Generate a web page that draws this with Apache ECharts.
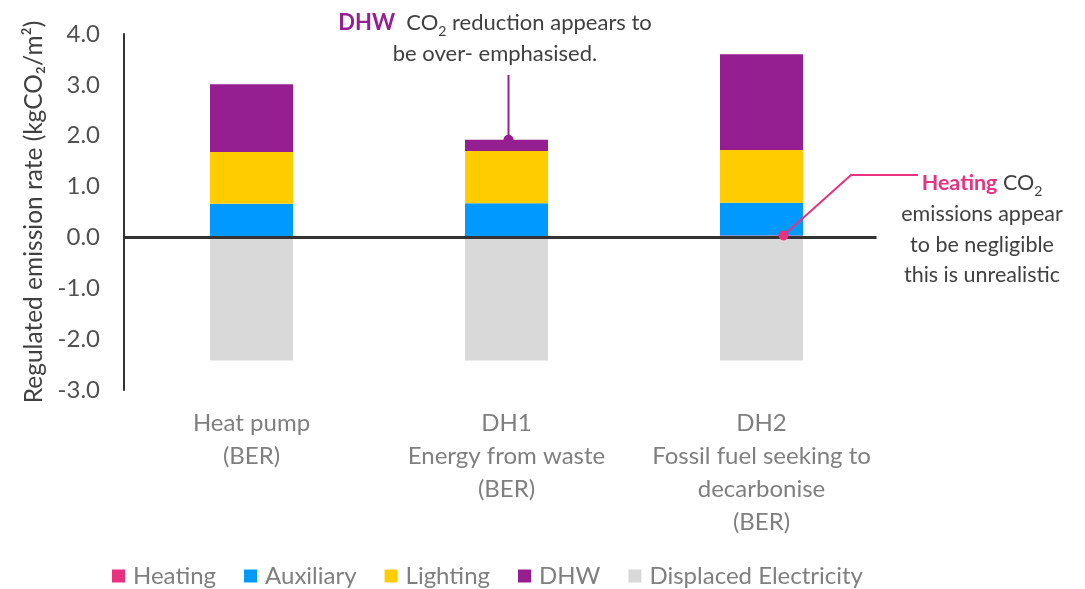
<!DOCTYPE html>
<html>
<head>
<meta charset="utf-8">
<script src="https://cdn.jsdelivr.net/npm/echarts@6/dist/echarts.min.js"></script>
<style>
  html, body { margin: 0; padding: 0; background: #ffffff; }
  #chart { width: 1085px; height: 589px; }
</style>
</head>
<body>
<div id="chart"></div>
<script>
// Categories (scenarios) and stacked emission components, kgCO2/m2
const categories = [
  'Heat pump\n(BER)',
  'DH1\nEnergy from waste\n(BER)',
  'DH2\nFossil fuel seeking to\ndecarbonise\n(BER)'
];
const heating   = [0.03, 0.03, 0.04];
const auxiliary = [0.63, 0.64, 0.64];
const lighting  = [1.02, 1.03, 1.04];
const dhw       = [1.33, 0.22, 1.88];
const displaced = [-2.42, -2.42, -2.42];

const yMin = -3, yMax = 4, yStep = 1;

const colors = {
  heating: '#E8317F',
  auxiliary: '#0099FF',
  lighting: '#FFCC00',
  dhw: '#951F91',
  displaced: '#D9D9D9'
};

const FONT = 'Lato, "Open Sans", sans-serif';

const chart = echarts.init(document.getElementById('chart'), null, { renderer: 'canvas' });

function barSeries(name, data, color) {
  return {
    name: name,
    type: 'bar',
    stack: 'total',
    data: data,
    barWidth: 83,
    itemStyle: { color: color },
    emphasis: { disabled: true }
  };
}

const option = {
  animation: false,
  textStyle: { fontFamily: FONT },
  grid: { left: 124, width: 765, top: 34, height: 356 },
  legend: {
    left: 112,
    top: 564,
    padding: 0,
    icon: 'rect',
    itemWidth: 13,
    itemHeight: 13,
    itemGap: 28,
    textStyle: { fontSize: 24, color: '#7F7F7F', fontFamily: FONT, padding: [0, 0, 0, 3] },
    data: ['Heating', 'Auxiliary', 'Lighting', 'DHW', 'Displaced Electricity']
  },
  xAxis: {
    type: 'category',
    data: categories,
    position: 'bottom',
    axisLine: { show: false },
    axisTick: { show: false },
    axisLabel: {
      fontSize: 24,
      lineHeight: 33,
      color: '#7F7F7F',
      margin: 17,
      fontFamily: FONT,
      interval: 0
    }
  },
  yAxis: {
    type: 'value',
    min: yMin,
    max: yMax,
    interval: yStep,
    name: 'Regulated emission rate (kgCO\u2082/m\u00B2)',
    nameLocation: 'middle',
    nameRotate: 90,
    nameGap: 77,
    nameTextStyle: { fontSize: 24.5, color: '#404040', fontFamily: FONT },
    axisLine: { show: true, lineStyle: { color: '#333333', width: 2 } },
    axisTick: { show: false },
    splitLine: { show: false },
    axisLabel: {
      fontSize: 24,
      color: '#505050',
      margin: 24,
      fontFamily: FONT,
      formatter: v => v.toFixed(1)
    }
  },
  series: [
    barSeries('Heating', heating, colors.heating),
    barSeries('Auxiliary', auxiliary, colors.auxiliary),
    barSeries('Lighting', lighting, colors.lighting),
    barSeries('DHW', dhw, colors.dhw),
    barSeries('Displaced Electricity', displaced, colors.displaced)
  ]
};

chart.setOption(option);

// Annotation overlay, anchored to the data through the axes
const px = (i, v) => chart.convertToPixel({ xAxisIndex: 0, yAxisIndex: 0 }, [i, v]);
const zeroY = px(0, 0)[1];
const dh1Top = px(1, heating[1] + auxiliary[1] + lighting[1] + dhw[1]);
const dh2Heat = px(2, heating[2]);
const dh2Center = px(2, 0)[0];

const darkText = '#404040';

chart.setOption({
  graphic: [
    // zero baseline
    {
      type: 'line', z: 100,
      shape: { x1: 124, y1: zeroY, x2: dh2Center + 115, y2: zeroY },
      style: { stroke: '#333333', lineWidth: 3 }
    },
    // DHW call-out
    {
      type: 'line', z: 101,
      shape: { x1: dh1Top[0] + 2, y1: 75, x2: dh1Top[0] + 2, y2: dh1Top[1] },
      style: { stroke: colors.dhw, lineWidth: 2 }
    },
    {
      type: 'circle', z: 101,
      shape: { cx: dh1Top[0] + 2, cy: dh1Top[1], r: 5 },
      style: { fill: colors.dhw }
    },
    {
      type: 'text', z: 101,
      x: 495, y: 7,
      style: {
        text: '{b|DHW}  CO{s|2} reduction appears to\nbe over- emphasised.',
        align: 'center',
        font: '22px ' + FONT,
        fill: darkText,
        lineHeight: 31,
        rich: {
          b: { fontSize: 22, fontWeight: 'bold', fill: colors.dhw, fontFamily: FONT, lineHeight: 31 },
          s: { fontSize: 14, fill: darkText, fontFamily: FONT, verticalAlign: 'bottom', lineHeight: 23, padding: [9, 0, 0, 0] }
        }
      }
    },
    // Heating call-out
    {
      type: 'polyline', z: 101,
      shape: { points: [[918, 175], [851, 175], [dh2Heat[0] + 22, dh2Heat[1]]] },
      style: { stroke: colors.heating, lineWidth: 2, fill: null }
    },
    {
      type: 'circle', z: 101,
      shape: { cx: dh2Heat[0] + 22, cy: dh2Heat[1], r: 5 },
      style: { fill: colors.heating }
    },
    {
      type: 'text', z: 101,
      x: 982, y: 168,
      style: {
        text: '{h|Heating} CO{s|2}\nemissions appear\nto be negligible\nthis is unrealistic',
        align: 'center',
        font: '21.5px ' + FONT,
        fill: darkText,
        lineHeight: 30.7,
        rich: {
          h: { fontSize: 21.5, fontWeight: 'bold', fill: colors.heating, fontFamily: FONT, lineHeight: 30.7 },
          s: { fontSize: 14, fill: darkText, fontFamily: FONT, verticalAlign: 'bottom', lineHeight: 23, padding: [9, 0, 0, 0] }
        }
      }
    }
  ]
});
</script>
</body>
</html>
